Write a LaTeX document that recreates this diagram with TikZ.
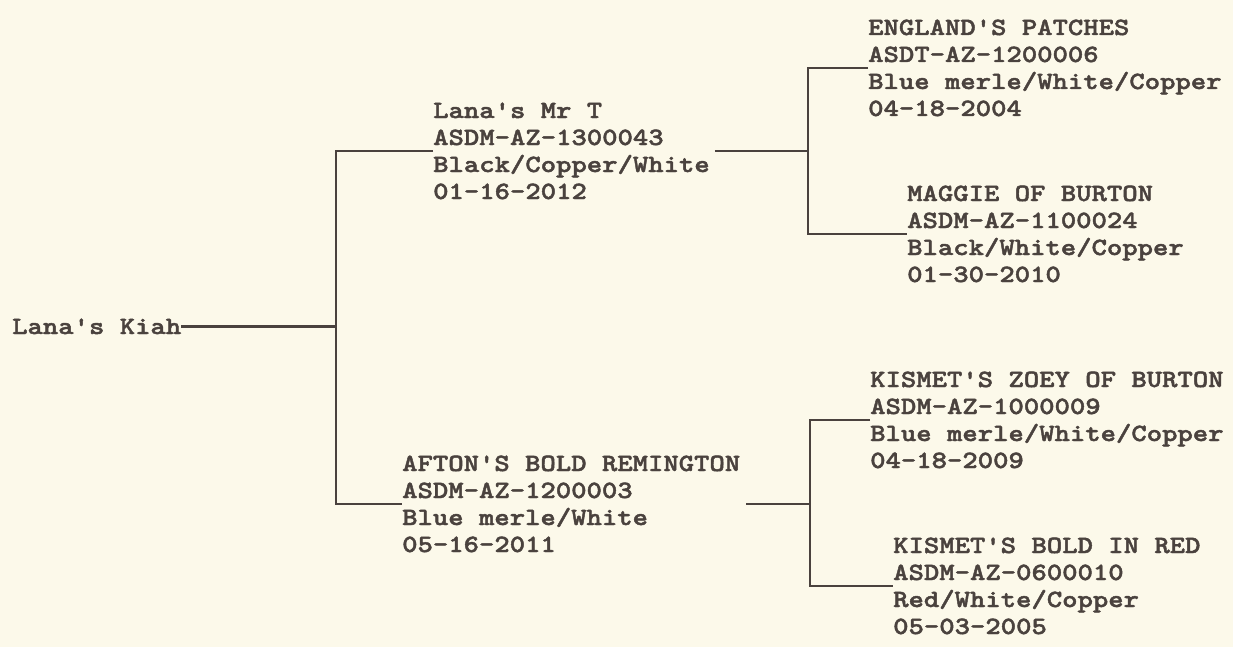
\documentclass[tikz,border=0pt]{standalone}
\usepackage{fontspec}
\newfontfamily\dogfont{lmmonolt10-bold}[Extension=.otf, FakeStretch=1.18, FakeBold=1.8]
\definecolor{ink}{HTML}{4A423E}
\definecolor{paper}{HTML}{FCF9EA}
\begin{document}
\begin{tikzpicture}[x=1pt,y=-1pt,
  dog/.style={inner sep=0pt, anchor=base west, align=left, text=ink,
    font=\dogfont\fontsize{24.8}{27}\selectfont},
  link/.style={draw=ink, line width=2.6pt}]
\fill[paper] (0,0) rectangle (1233,647);
\useasboundingbox (0,0) rectangle (1233,647);
\node[dog] (kiah) at (12,334) {Lana's Kiah};
\node[dog] (mrt) at (433,199) {Lana's Mr T\\ASDM-AZ-1300043\\Black/Copper/White\\01-16-2012};
\node[dog] (afton) at (402,552) {AFTON'S BOLD REMINGTON\\ASDM-AZ-1200003\\Blue merle/White\\05-16-2011};
\node[dog] (eng) at (868,116) {ENGLAND'S PATCHES\\ASDT-AZ-1200006\\Blue merle/White/Copper\\04-18-2004};
\node[dog] (mag) at (907,282) {MAGGIE OF BURTON\\ASDM-AZ-1100024\\Black/White/Copper\\01-30-2010};
\node[dog] (zoey) at (870,468) {KISMET'S ZOEY OF BURTON\\ASDM-AZ-1000009\\Blue merle/White/Copper\\04-18-2009};
\node[dog] (red) at (893,634) {KISMET'S BOLD IN RED\\ASDM-AZ-0600010\\Red/White/Copper\\05-03-2005};
\coordinate (j0) at (336,327);
\coordinate (j1) at (808,150);
\coordinate (j2) at (810,502);
\draw[link] (kiah.east) -- (kiah.east -| j0);
\draw[link] (mrt.west) -| (kiah.east -| j0) |- (afton.west);
\draw[link] ([xshift=5pt]mrt.east) -- (mrt.east -| j1);
\draw[link] (eng.west) -| (j1) |- (mag.west);
\draw[link] ([xshift=6pt]afton.east) -- (afton.east -| j2);
\draw[link] (zoey.west) -| (j2) |- (red.west);
\end{tikzpicture}
\end{document}
